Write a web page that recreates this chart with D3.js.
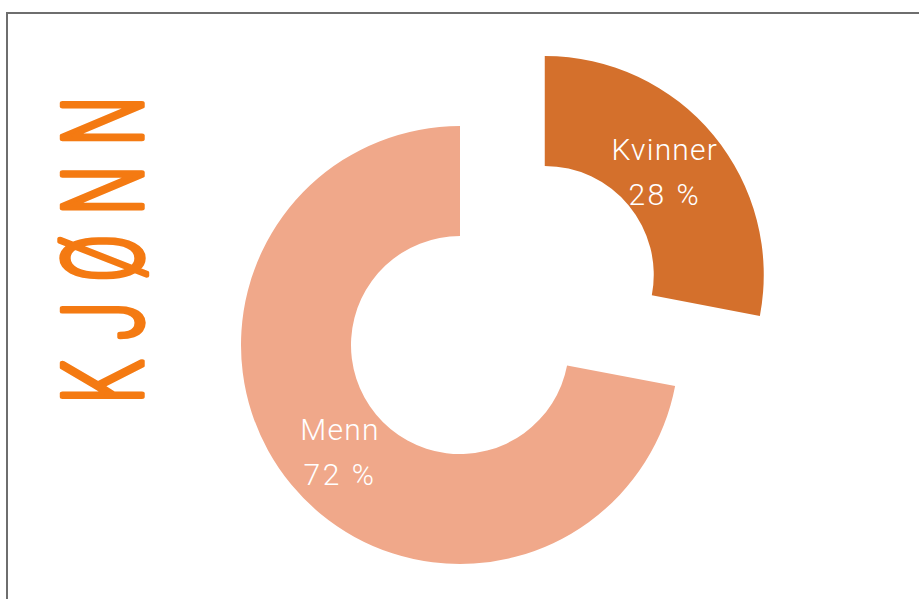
<!DOCTYPE html>
<html>
<head>
<meta charset="utf-8">
<script src="https://cdn.jsdelivr.net/npm/d3@7"></script>
<style>
  html, body { margin: 0; padding: 0; background: #fff; }
  svg { display: block; }
</style>
</head>
<body>
<div id="chart"></div>
<script>
// Chart data
var categories = ['Kvinner', 'Menn'];
var shares = [28, 72];
var colors = ['#d4702c', '#f0a88a'];
var title = 'KJØNN';

var width = 919;
var height = 599;

var svg = d3.select('#chart')
            .append('svg')
            .attr('width', width)
            .attr('height', height);

// Frame (runs off the right and bottom edge)
svg.append('rect')
   .attr('x', 7)
   .attr('y', 13)
   .attr('width', width + 20)
   .attr('height', height + 20)
   .attr('fill', '#fff')
   .attr('stroke', '#6e6e6e')
   .attr('stroke-width', 2);

// Vertical title: narrow letters, rounded stroke ends like the original
var titleSpacing = 32;
svg.append('g')
   .attr('transform', 'translate(142,250) rotate(-90) scale(0.62,1)')
   .append('text')
   .attr('x', titleSpacing / 2)
   .attr('text-anchor', 'middle')
   .attr('font-family', 'Roboto, sans-serif')
   .attr('font-weight', 300)
   .attr('font-size', 112)
   .attr('letter-spacing', titleSpacing)
   .attr('fill', '#f47a12')
   .attr('stroke', '#f47a12')
   .attr('stroke-width', 4.5)
   .attr('stroke-linejoin', 'round')
   .attr('stroke-linecap', 'round')
   .attr('vector-effect', 'non-scaling-stroke')
   .text(title);

// Donut
var cx = 460;
var cy = 345;
var outerRadius = 219;
var innerRadius = 109;
var explode = 110;

var table = categories.map(function (c, i) {
  return { name: c, value: shares[i], color: colors[i], explode: i === 0 ? explode : 0 };
});

var pie = d3.pie()
            .sort(null)
            .value(function (d) { return d.value; });

var arc = d3.arc()
            .innerRadius(innerRadius)
            .outerRadius(outerRadius);

var g = svg.append('g')
           .attr('transform', 'translate(' + cx + ',' + cy + ')');

var slices = g.selectAll('.slice')
              .data(pie(table))
              .enter()
              .append('g')
              .attr('class', 'slice')
              .attr('transform', function (d) {
                var a = (d.startAngle + d.endAngle) / 2;
                var r = d.data.explode;
                return 'translate(' + (r * Math.sin(a)) + ',' + (-r * Math.cos(a)) + ')';
              });

slices.append('path')
      .attr('d', arc)
      .attr('fill', function (d) { return d.data.color; });

// Labels sit a little inside the centroid, as in the original
var labels = slices.append('text')
                   .attr('transform', function (d) {
                     var c = arc.centroid(d);
                     return 'translate(' + (c[0] * 0.95) + ',' + (c[1] + 3) + ')';
                   })
                   .attr('text-anchor', 'middle')
                   .attr('font-family', 'Roboto, sans-serif')
                   .attr('font-weight', 300)
                   .attr('font-size', 30)
                   .attr('letter-spacing', 1.2)
                   .attr('fill', '#fff');

labels.append('tspan')
      .attr('x', 0)
      .attr('y', -13)
      .text(function (d) { return d.data.name; });

labels.append('tspan')
      .attr('x', 0)
      .attr('y', 32)
      .attr('letter-spacing', 2.5)
      .text(function (d) { return d.data.value + ' %'; });
</script>
</body>
</html>
